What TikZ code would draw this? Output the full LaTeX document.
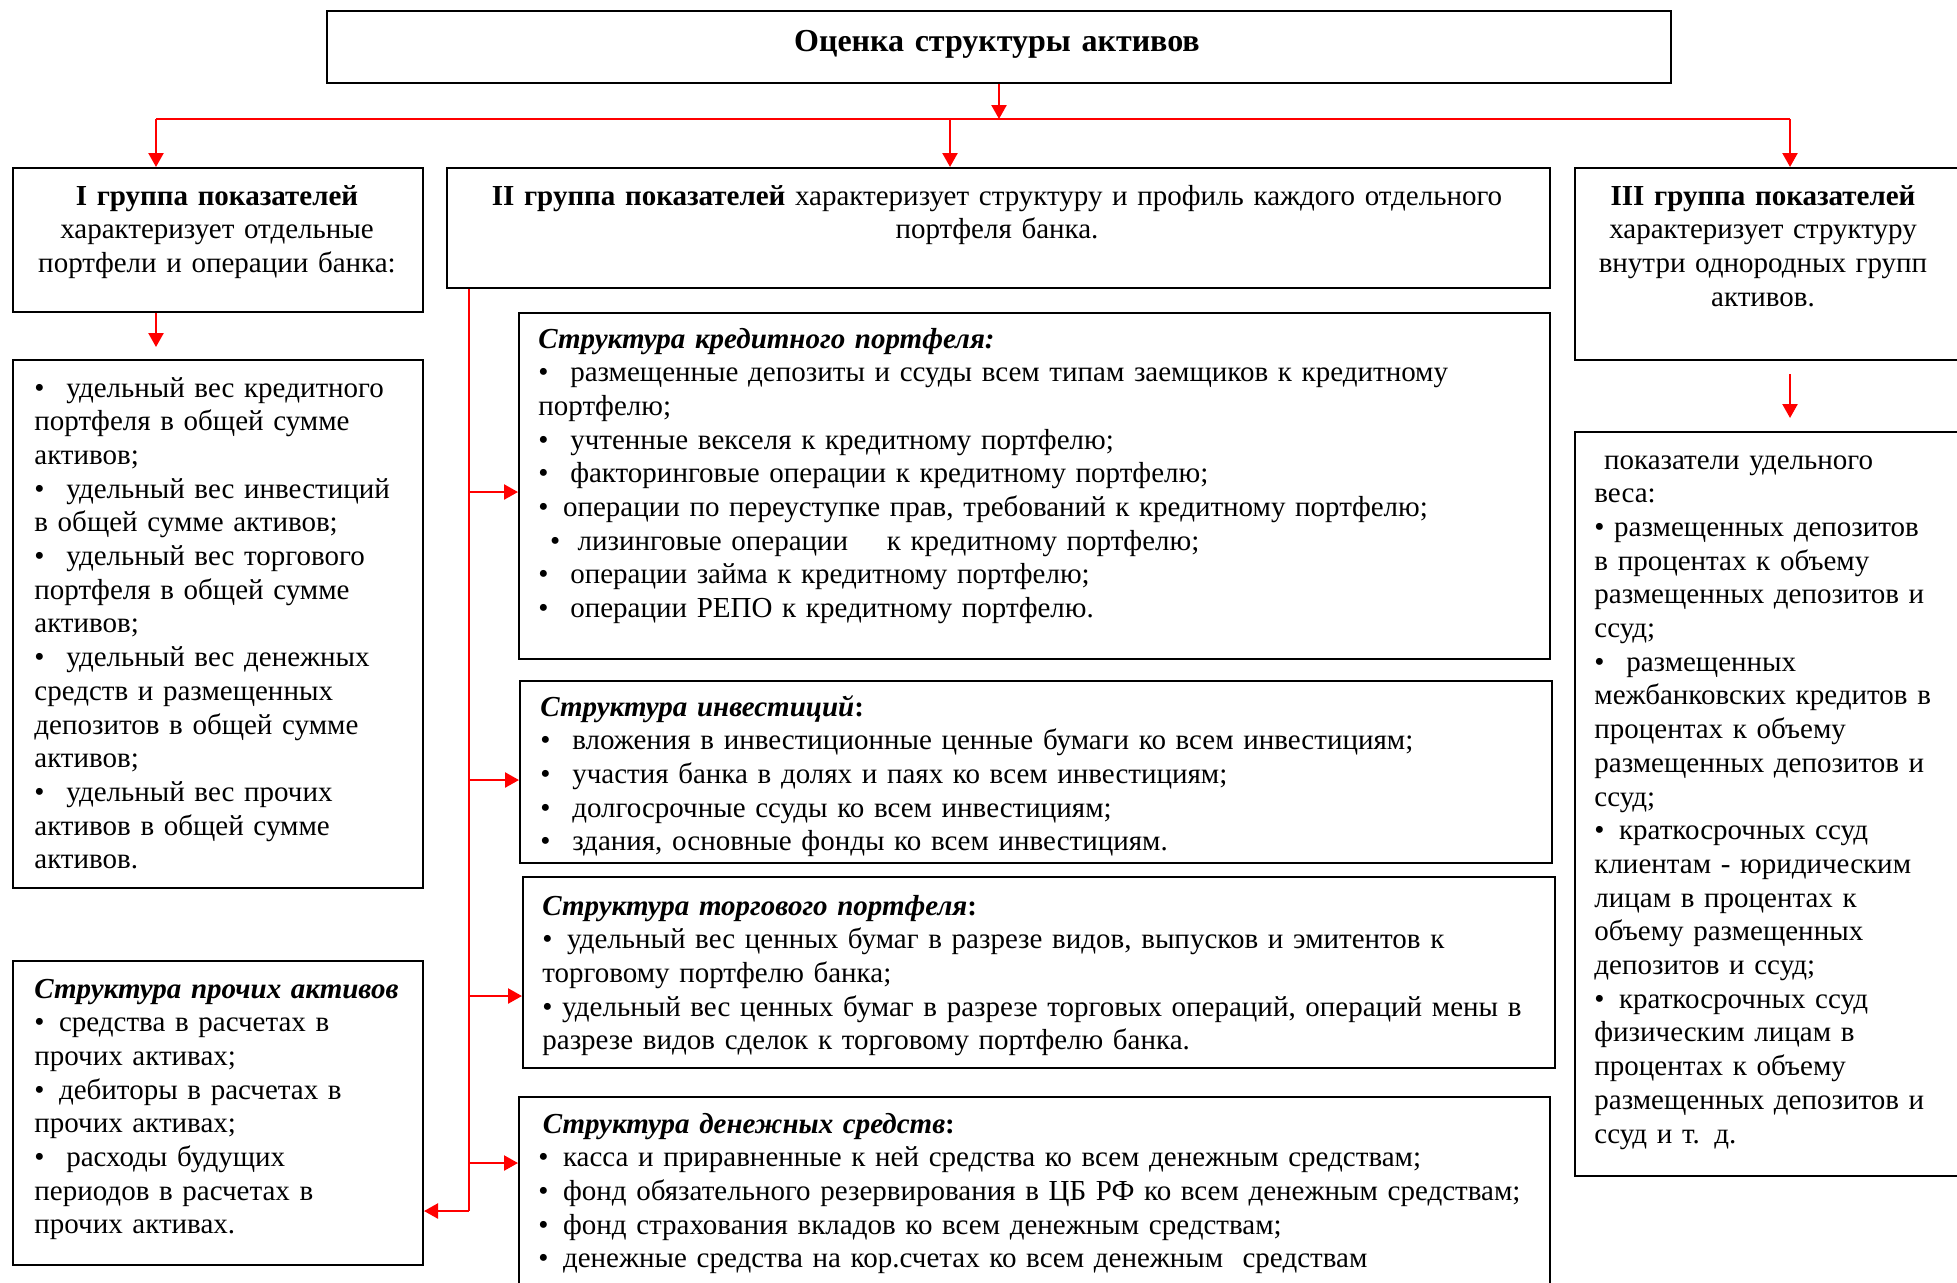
\documentclass[tikz,border=0pt]{standalone}
\usepackage{fontspec}
\setmainfont{Liberation Serif}
\usetikzlibrary{arrows.meta,positioning}

\newcommand{\itm}{•\hspace{0.75em}}
\newcommand{\itn}{•\enspace}

\tikzset{
  frame/.style={draw, line width=1pt, anchor=north west, inner sep=0pt},
  txt/.style={anchor=base west, inner sep=0pt, align=left, text width=#1,
    font=\fontsize{14.5}{16.85}\selectfont},
  head/.style={anchor=base, inner sep=0pt, align=center, text width=#1,
    font=\fontsize{14.5}{16.85}\selectfont},
  link/.style={red, line width=1.2pt},
  arr/.style={link, -{Triangle[length=7pt,width=7.5pt]}},
}

\begin{document}
\begin{tikzpicture}[x=0.5pt, y=-0.5pt]
    \useasboundingbox (0,0) rectangle (1957,1282);

    % frames
    \node[frame, minimum width=672pt, minimum height=36pt] (top) at (326,10) {};
    \node[frame, minimum width=205pt, minimum height=72pt] (headI) at (12,167) {};
    \node[frame, minimum width=551.5pt, minimum height=60pt] (headII) at (446,167) {};
    \node[frame, minimum width=194pt, minimum height=96pt] (headIII) at (1574,167) {};
    \node[frame, minimum width=205pt, minimum height=264pt] (listI) at (12,359) {};
    \node[frame, minimum width=194pt, minimum height=372pt] (listIII) at (1574,431) {};
    \node[frame, minimum width=515.5pt, minimum height=173pt] (credit) at (518,312) {};
    \node[frame, minimum width=516pt, minimum height=91pt] (invest) at (519,680) {};
    \node[frame, minimum width=516pt, minimum height=95.5pt] (trade) at (522,876) {};
    \node[frame, minimum width=515.5pt, minimum height=100pt] (money) at (518,1096) {};
    \node[frame, minimum width=205pt, minimum height=152pt] (other) at (12,960) {};

    % texts
    \node[head=660pt, font=\fontsize{16}{19}\selectfont] (top-t) at (997,51)
        {\textbf{Оценка структуры активов}};
    \node[head=200pt] (headI-t) at (217,205)
        {\textbf{I группа показателей}\\ характеризует отдельные\\ портфели и операции банка:};
    \node[head=540pt] (headII-t) at (997,205)
        {\textbf{II группа показателей} характеризует структуру и профиль каждого отдельного\\ портфеля банка.};
    \node[head=190pt] (headIII-t) at (1763,205)
        {\textbf{III группа показателей}\\ характеризует структуру\\ внутри однородных групп\\ активов.};

    \node[txt=190pt] (listI-t) at (34,397)
        {\itm удельный вес кредитного\\ портфеля в общей сумме\\ активов;\\
         \itm удельный вес инвестиций\\ в общей сумме активов;\\
         \itm удельный вес торгового\\ портфеля в общей сумме\\ активов;\\
         \itm удельный вес денежных\\ средств и размещенных\\ депозитов в общей сумме\\ активов;\\
         \itm удельный вес прочих\\ активов в общей сумме\\ активов.};

    \node[txt=500pt] (credit-t) at (538,348)
        {\textbf{\textit{Структура кредитного портфеля:}}\\
         \itm размещенные депозиты и ссуды всем типам заемщиков к кредитному\\ портфелю;\\
         \itm учтенные векселя к кредитному портфелю;\\
         \itm факторинговые операции к кредитному портфелю;\\
         \itn операции по переуступке прав, требований к кредитному портфелю;\\
         \hspace{0.4em}•\hspace{0.6em}лизинговые операции\quad\ к кредитному портфелю;\\
         \itm операции займа к кредитному портфелю;\\
         \itm операции РЕПО к кредитному портфелю.};

    \node[txt=500pt] (invest-t) at (540,716)
        {\textbf{\textit{Структура инвестиций}:}\\
         \itm вложения в инвестиционные ценные бумаги ко всем инвестициям;\\
         \itm участия банка в долях и паях ко всем инвестициям;\\
         \itm долгосрочные ссуды ко всем инвестициям;\\
         \itm здания, основные фонды ко всем инвестициям.};

    \node[txt=500pt] (trade-t) at (542,915)
        {\textbf{\textit{Структура торгового портфеля}:}\\
         \itn удельный вес ценных бумаг в разрезе видов, выпусков и эмитентов к\\ торговому портфелю банка;\\
         • удельный вес ценных бумаг в разрезе торговых операций, операций мены в\\ разрезе видов сделок к торговому портфелю банка.};

    \node[txt=500pt] (money-t) at (538,1133)
        {\hspace{0.15em}\textbf{\textit{Структура денежных средств}:}\\
         \itn касса и приравненные к ней средства ко всем денежным средствам;\\
         \itn фонд обязательного резервирования в ЦБ РФ ко всем денежным средствам;\\
         \itn фонд страхования вкладов ко всем денежным средствам;\\
         \itn денежные средства на кор.счетах ко всем денежным\ \ средствам};

    \node[txt=198pt] (other-t) at (34,998)
        {\textbf{\textit{Структура прочих активов}}\\
         \itn средства в расчетах в\\ прочих активах;\\
         \itn дебиторы в расчетах в\\ прочих активах;\\
         \itm расходы будущих\\ периодов в расчетах в\\ прочих активах.};

    \node[txt=185pt] (listIII-t) at (1594,469)
        {\ показатели удельного\\ веса:\\
         • размещенных депозитов\\ в процентах к объему\\ размещенных депозитов и\\ ссуд;\\
         \itm размещенных\\ межбанковских кредитов в\\ процентах к объему\\ размещенных депозитов и\\ ссуд;\\
         \itn краткосрочных ссуд\\ клиентам - юридическим\\ лицам в процентах к\\ объему размещенных\\ депозитов и ссуд;\\
         \itn краткосрочных ссуд\\ физическим лицам в\\ процентах к объему\\ размещенных депозитов и\\ ссуд и т. д.};

    % connectors
    \coordinate (busL) at (156,119);
    \coordinate (busM) at (950,119);
    \coordinate (busR) at (1790,119);
    \coordinate (trunkX) at (469,0);
    \coordinate (trunkEnd) at (469,1211);

    \draw[arr] (top.south) -- (top.south |- busM);
    \draw[link] (busL) -- (busR);
    \draw[arr] (busL) -- (busL |- headI.north);
    \draw[arr] (busM) -- (busM |- headII.north);
    \draw[arr] (busR) -- (busR |- headIII.north);
    \draw[arr, shorten >=6pt] (busL |- headI.south) -- (busL |- listI.north);
    \draw[arr, shorten <=6.5pt, shorten >=6.5pt] (busR |- headIII.south) -- (busR |- listIII.north);

    \draw[link] (headII.south -| trunkX) -- (trunkEnd);
    \foreach \nm/\yy in {credit/492, invest/780, trade/996, money/1163}
        \draw[arr] (trunkX |- 0,\yy) -- (\nm.west |- 0,\yy);
    \draw[arr] (trunkEnd) -- (other.east |- trunkEnd);
\end{tikzpicture}
\end{document}
